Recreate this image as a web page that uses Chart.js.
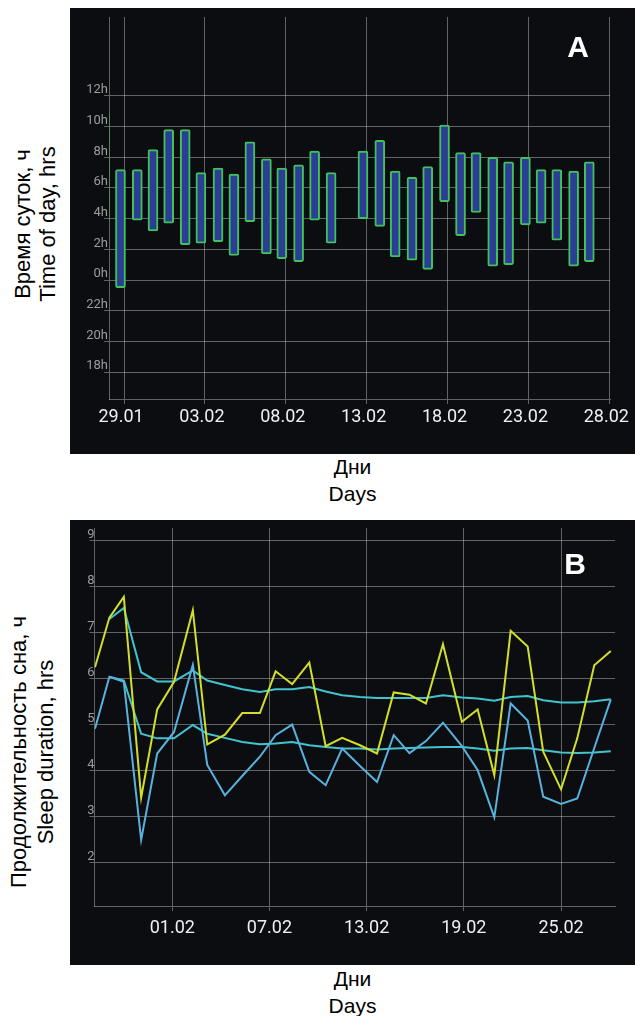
<!DOCTYPE html>
<html>
<head>
<meta charset="utf-8">
<script src="https://cdn.jsdelivr.net/npm/chart.js@4.4.1/dist/chart.umd.min.js"></script>
<style>
  body { margin: 0; background: #fff; width: 635px; height: 1016px; position: relative; overflow: hidden;
         font-family: "Liberation Sans", Arial, sans-serif; }
  .panel { position: absolute; left: 70px; width: 565px; background: #0b0d11; }
  .panel canvas { display: block; }
  .letter { position: absolute; width: 40px; text-align: center; color: #fff; font-weight: bold;
            font-size: 30px; line-height: 30px; }
  .ytitle { position: absolute; width: 400px; height: 22px; text-align: center; font-size: 22px;
            line-height: 22px; color: #000; transform: rotate(-90deg); white-space: nowrap; }
  .xtitle { position: absolute; left: 70px; width: 565px; text-align: center; font-size: 21px;
            line-height: 21px; color: #000; }
</style>
</head>
<body>

<div class="panel" style="top:8px;height:446px;"><canvas id="chartA" width="565" height="446"></canvas></div>
<div class="letter" style="left:558px;top:32px;">A</div>
<div class="ytitle" style="left:-177px;top:213px;">Время суток, ч</div>
<div class="ytitle" style="left:-152px;top:213px;">Time of day, hrs</div>
<div class="xtitle" style="top:456px;">Дни</div>
<div class="xtitle" style="top:483px;">Days</div>

<div class="panel" style="top:520px;height:445px;"><canvas id="chartB" width="565" height="445"></canvas></div>
<div class="letter" style="left:555px;top:549px;">B</div>
<div class="ytitle" style="left:-181px;top:741px;">Продолжительность сна, ч</div>
<div class="ytitle" style="left:-154px;top:741px;">Sleep duration, hrs</div>
<div class="xtitle" style="top:968px;">Дни</div>
<div class="xtitle" style="top:995px;">Days</div>

<script>
// days are counted from 01.02 (0); negative = January
// panel A: sleep intervals, hours (negative = before midnight)
var barDays = [-4.22, -3.22, -2.18, -1.21, -0.24, 0.78, 1.75, 2.81, 3.79, 4.78, 5.80, 6.75, 7.79, 8.78, 9.80,
               11.77, 12.81, 13.76, 14.80, 15.77, 16.81, 17.80, 18.76, 19.79, 20.77, 21.81, 22.78, 23.75, 24.79, 25.76];
var sleepStart = [3.8, -0.5, 3.9, 3.2, 3.7, 2.3, 2.4, 2.5, 1.6, 3.8, 1.7, 1.4, 1.2, 3.9, 2.4,
                  4.0, 3.5, 1.5, 1.3, 0.7, 5.1, 2.9, 4.4, 0.9, 1.0, 3.6, 3.7, 2.6, 0.9, 1.2];
var sleepEnd = [11.0, 7.2, 7.2, 8.5, 9.8, 9.8, 7.0, 7.3, 6.9, 9.0, 7.9, 7.3, 7.5, 8.4, 7.0,
                8.4, 9.1, 7.1, 6.7, 7.4, 10.1, 8.3, 8.3, 8.0, 7.7, 8.0, 7.2, 7.2, 7.1, 7.7];
var dayTicksA = [-3, 2, 7, 12, 17, 22, 27];
var hourTicks = [-6, -4, -2, 0, 2, 4, 6, 8, 10, 12];

// panel B: sleep duration, hours
var lineDays = [-4.77, -3.88, -2.99, -1.92, -0.93, 0.11, 1.27, 2.16, 3.25, 4.32, 5.41, 6.38, 7.40, 8.46, 9.47, 10.49,
                11.59, 12.64, 13.67, 14.64, 15.66, 16.71, 17.88, 18.85, 19.88, 20.89, 21.94, 22.90, 24.0, 25.0, 26.05, 27.07];
var durYellow = [6.25, 7.33, 7.78, 3.41, 5.33, 5.93, 7.49, 4.57, 4.78, 5.25, 5.25, 6.16, 5.88, 6.35, 4.53, 4.71,
                 4.55, 4.37, 5.70, 5.65, 5.46, 6.75, 5.06, 5.33, 3.90, 7.04, 6.70, 4.41, 3.59, 4.70, 6.29, 6.60];
var durBlue = [4.91, 6.04, 5.93, 2.49, 4.37, 4.84, 6.30, 4.12, 3.46, 3.88, 4.30, 4.77, 5.00, 3.97, 3.68, 4.48,
               4.10, 3.75, 4.77, 4.38, 4.64, 5.04, 4.53, 4.01, 2.98, 5.46, 5.09, 3.43, 3.27, 3.39, 4.49, 5.55];
var avgYellow = [null, 7.30, 7.54, 6.14, 5.94, 5.94, 6.18, 5.96, 5.86, 5.77, 5.71, 5.77, 5.77, 5.82, 5.72, 5.64,
                 5.60, 5.58, 5.58, 5.58, 5.58, 5.64, 5.59, 5.57, 5.52, 5.60, 5.62, 5.53, 5.48, 5.48, 5.51, 5.55];
var avgBlue = [null, 6.04, 5.96, 4.80, 4.70, 4.70, 4.99, 4.80, 4.71, 4.62, 4.57, 4.59, 4.62, 4.55, 4.51, 4.48,
               4.48, 4.46, 4.48, 4.49, 4.50, 4.51, 4.51, 4.48, 4.43, 4.48, 4.49, 4.44, 4.39, 4.38, 4.39, 4.42];
var dayTicksB = [0, 6, 12, 18, 24];
var durTicks = [2, 3, 4, 5, 6, 7, 8, 9];

var gridColor = 'rgba(185,185,185,0.5)';

function fmtDate(d) {
  d = Math.round(d);
  var day = d < 0 ? 32 + d : d + 1;
  return (day < 10 ? '0' : '') + day + (d < 0 ? '.01' : '.02');
}
function setTicks(list) {
  return function (scale) { scale.ticks = list.map(function (v) { return { value: v }; }); };
}

new Chart(document.getElementById('chartA'), {
  type: 'bar',
  data: {
    datasets: [{
      data: barDays.map(function (d, i) { return { x: d, y: [sleepStart[i], sleepEnd[i]] }; }),
      backgroundColor: '#2b3d94',
      borderColor: '#42c25c',
      borderWidth: 2,
      borderSkipped: false,
      borderRadius: 2,
      barThickness: 10,
      clip: 0
    }]
  },
  options: {
    responsive: false,
    animation: false,
    layout: { padding: { top: 9, right: 21, left: 0, bottom: 0 } },
    plugins: { legend: { display: false }, tooltip: { enabled: false } },
    scales: {
      x: {
        type: 'linear', min: -3.93, max: 27.05, offset: false,
        afterBuildTicks: setTicks(dayTicksA),
        afterFit: function (s) { s.height = 55; },
        grid: { color: gridColor, lineWidth: 1, tickLength: 5, offset: false },
        border: { color: gridColor },
        ticks: { color: '#f0f0f0', font: { family: 'Roboto', size: 18 }, padding: 3, maxRotation: 0,
                 autoSkip: false, labelOffset: -3, callback: function (v) { return fmtDate(v); } }
      },
      y: {
        type: 'linear', min: -7.75, max: 17.14, beginAtZero: false,
        afterBuildTicks: setTicks(hourTicks),
        afterFit: function (s) { s.width = 39; },
        grid: { color: gridColor, lineWidth: 1, tickLength: 5 },
        border: { color: gridColor },
        ticks: { color: '#9c9c9c', font: { family: 'Roboto', size: 13 }, padding: -4, labelOffset: -6,
                 callback: function (v) { return (v < 0 ? 24 + v : v) + 'h'; } }
      }
    }
  }
});

function series(values, color) {
  return {
    data: lineDays.map(function (d, i) { return { x: d, y: values[i] }; }),
    borderColor: color, borderWidth: 2, pointRadius: 0, tension: 0, fill: false
  };
}

new Chart(document.getElementById('chartB'), {
  type: 'line',
  data: {
    datasets: [
      series(durYellow, '#d2de2a'),
      series(durBlue, '#58b2dc'),
      series(avgYellow, '#42c4cf'),
      series(avgBlue, '#42c4cf')
    ]
  },
  options: {
    responsive: false,
    animation: false,
    layout: { padding: { top: 8, right: 20, left: 0, bottom: 0 } },
    plugins: { legend: { display: false }, tooltip: { enabled: false } },
    scales: {
      x: {
        type: 'linear', min: -4.80, max: 27.33,
        afterBuildTicks: setTicks(dayTicksB),
        afterFit: function (s) { s.height = 59; },
        grid: { color: gridColor, lineWidth: 1, tickLength: 5 },
        border: { color: gridColor },
        ticks: { color: '#f0f0f0', font: { family: 'Roboto', size: 18 }, padding: 7, maxRotation: 0,
                 autoSkip: false, callback: function (v) { return fmtDate(v); } }
      },
      y: {
        type: 'linear', min: 1.05, max: 9.28,
        afterBuildTicks: setTicks(durTicks),
        afterFit: function (s) { s.width = 24.5; },
        grid: { color: gridColor, lineWidth: 1, tickLength: 5 },
        border: { color: gridColor },
        ticks: { color: '#9c9c9c', font: { family: 'Roboto', size: 13 }, padding: -5, labelOffset: -6 }
      }
    }
  }
});
</script>
</body>
</html>
